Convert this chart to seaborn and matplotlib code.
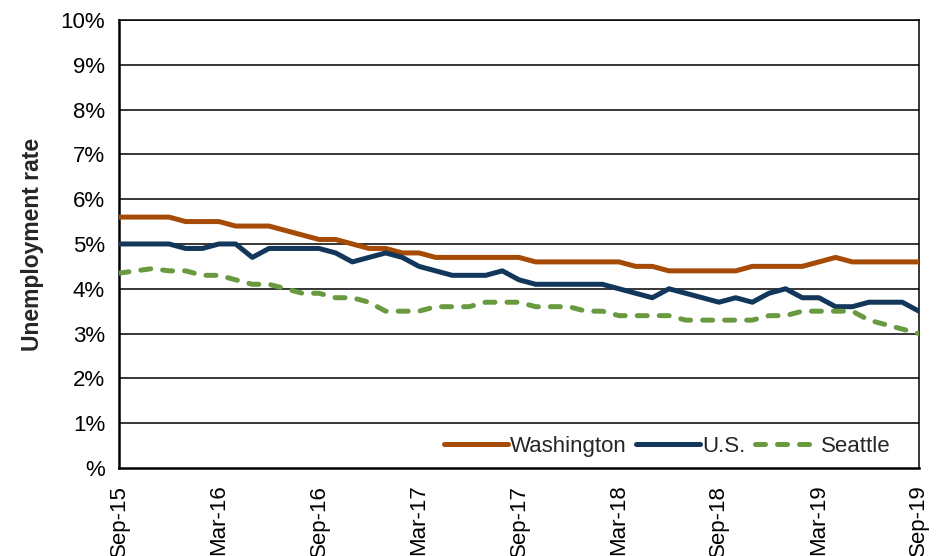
import pandas as pd
import matplotlib
matplotlib.use("Agg")
import matplotlib.pyplot as plt
import seaborn as sns

# ----------------------------------------------------------------------------------
# Data (monthly, Sep-15 .. Sep-19)
# ----------------------------------------------------------------------------------
months = pd.date_range("2015-09-01", "2019-09-01", freq="MS")

washington = [5.6, 5.6, 5.6, 5.6, 5.5, 5.5, 5.5, 5.4, 5.4, 5.4, 5.3, 5.2,
              5.1, 5.1, 5.0, 4.9, 4.9, 4.8, 4.8, 4.7, 4.7, 4.7, 4.7, 4.7,
              4.7, 4.6, 4.6, 4.6, 4.6, 4.6, 4.6, 4.5, 4.5, 4.4, 4.4, 4.4,
              4.4, 4.4, 4.5, 4.5, 4.5, 4.5, 4.6, 4.7, 4.6, 4.6, 4.6, 4.6,
              4.6]
us = [5.0, 5.0, 5.0, 5.0, 4.9, 4.9, 5.0, 5.0, 4.7, 4.9, 4.9, 4.9,
      4.9, 4.8, 4.6, 4.7, 4.8, 4.7, 4.5, 4.4, 4.3, 4.3, 4.3, 4.4,
      4.2, 4.1, 4.1, 4.1, 4.1, 4.1, 4.0, 3.9, 3.8, 4.0, 3.9, 3.8,
      3.7, 3.8, 3.7, 3.9, 4.0, 3.8, 3.8, 3.6, 3.6, 3.7, 3.7, 3.7,
      3.5]
seattle = [4.35, 4.4, 4.45, 4.4, 4.4, 4.3, 4.3, 4.2, 4.1, 4.1, 4.0, 3.9,
           3.9, 3.8, 3.8, 3.7, 3.5, 3.5, 3.5, 3.6, 3.6, 3.6, 3.7, 3.7,
           3.7, 3.6, 3.6, 3.6, 3.5, 3.5, 3.4, 3.4, 3.4, 3.4, 3.3, 3.3,
           3.3, 3.3, 3.3, 3.4, 3.4, 3.5, 3.5, 3.5, 3.5, 3.3, 3.2, 3.1,
           3.0]

series_names = ["Washington", "U.S.", "Seattle"]
colors = {"Washington": "#A64B05", "U.S.": "#12375A", "Seattle": "#6A9A40"}

x_ticks = [0, 6, 12, 18, 24, 30, 36, 42, 48]
x_labels = ["Sep-15", "Mar-16", "Sep-16", "Mar-17", "Sep-17",
            "Mar-18", "Sep-18", "Mar-19", "Sep-19"]
y_ticks = list(range(0, 11))
y_labels = ["%"] + [f"{v}%" for v in range(1, 11)]

# ----------------------------------------------------------------------------------
# Long-form table for seaborn
# ----------------------------------------------------------------------------------
frames = []
for name, vals in zip(series_names, [washington, us, seattle]):
    frames.append(pd.DataFrame({"month": range(len(months)), "rate": vals, "area": name}))
df = pd.concat(frames, ignore_index=True)

# ----------------------------------------------------------------------------------
# Plot
# ----------------------------------------------------------------------------------
sns.set_theme(style="white")
plt.rcParams["font.family"] = ["Liberation Sans", "DejaVu Sans"]
fs = 16

fig = plt.figure(figsize=(9.43, 5.56), dpi=100)
ax = fig.add_axes([0.1262, 0.1583, 0.8483, 0.8058])

for y in y_ticks[1:]:
    ax.axhline(y, color="black", lw=1.1, zorder=1)

sns.lineplot(data=df, x="month", y="rate", hue="area", style="area",
             hue_order=series_names, style_order=series_names,
             palette=colors, dashes={"Washington": "", "U.S.": "", "Seattle": (2.0, 2.4)},
             linewidth=3.6, ax=ax, zorder=3)

for line in ax.get_lines():
    line.set_dash_capstyle("round")

ax.set_xlim(0, 48)
ax.set_ylim(0, 10)
ax.set_xticks(x_ticks)
ax.set_xticklabels(x_labels, rotation=90, fontsize=fs)
ax.set_yticks(y_ticks)
ax.set_yticklabels(y_labels, fontsize=fs)
ax.tick_params(axis="y", direction="inout", length=12, width=1.3, colors="black", pad=4)
ax.tick_params(axis="x", direction="out", length=9, width=1.3, colors="black", pad=3)
ax.set_xlabel("")
ax.set_ylabel("Unemployment rate", fontsize=16.5, fontweight="bold", labelpad=12)

for side in ["left", "bottom", "right", "top"]:
    ax.spines[side].set_visible(True)
    ax.spines[side].set_color("black")
ax.spines["left"].set_linewidth(1.8)
ax.spines["bottom"].set_linewidth(1.8)
ax.spines["right"].set_linewidth(1.1)
ax.spines["top"].set_linewidth(1.1)

handles, labels = ax.get_legend_handles_labels()
for h in handles:
    h.set_dash_capstyle("round")
    h.set_solid_capstyle("round")
ax.legend(handles, labels, loc="lower right", ncol=3, frameon=False, fontsize=fs,
          handlelength=2.9, handletextpad=0.1, columnspacing=0.4,
          bbox_to_anchor=(0.99, -0.02))

fig.savefig("out.png", dpi=100)
plt.close(fig)
